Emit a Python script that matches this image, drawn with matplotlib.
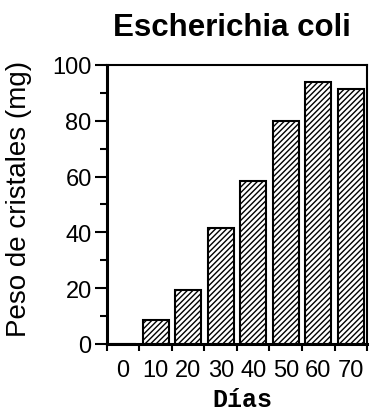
#!/usr/bin/env python3
"""Escherichia coli crystal weight bar chart."""

import matplotlib

matplotlib.use("Agg")
import matplotlib.pyplot as plt
import numpy as np

DAYS = [0, 10, 20, 30, 40, 50, 60, 70]
WEIGHT_MG = [0, 8.7, 19.5, 41.5, 58.5, 80, 94, 91.5]
Y_TICKS = [0, 20, 40, 60, 80, 100]

plt.rcParams["font.family"] = ["Liberation Sans", "DejaVu Sans"]
plt.rcParams["hatch.linewidth"] = 1.0


def main() -> None:
    fig = plt.figure(figsize=(3.7, 4.14), dpi=100)
    ax = fig.add_axes([0.289, 0.1667, 0.703, 0.6739])

    ax.bar(DAYS, WEIGHT_MG, width=8, color="white", edgecolor="black",
           linewidth=1.5, hatch="//////")

    ax.set_xlim(-5, 75)
    ax.set_ylim(0, 100)

    ax.set_yticks(Y_TICKS)
    ax.set_yticks(np.arange(10, 100, 20), minor=True)
    ax.set_xticks(DAYS)
    ax.set_xticklabels([str(d) for d in DAYS])
    ax.set_xticks(np.arange(-5, 76, 10), minor=True)

    ax.tick_params(axis="y", which="major", direction="out", length=9,
                   width=1.5, labelsize=17, pad=2)
    ax.tick_params(axis="y", which="minor", direction="out", length=5, width=1.5)
    ax.tick_params(axis="x", which="major", length=0, labelsize=17, pad=11)
    ax.tick_params(axis="x", which="minor", direction="out", length=5, width=1.5)

    for side in ["left", "bottom"]:
        ax.spines[side].set_linewidth(2.2)
    for side in ["top", "right"]:
        ax.spines[side].set_linewidth(1.5)

    fig.text(19 / 370, 1 - 199 / 414, "Peso de cristales (mg)", fontsize=20,
             rotation=90, ha="center", va="center")
    fig.text(242 / 370, 1 - 400 / 414, "Días", fontsize=18, fontweight="bold",
             family=["Liberation Mono", "DejaVu Sans Mono"],
             ha="center", va="center")
    fig.text(232 / 370, 1 - 36 / 414, "Escherichia coli", fontsize=22.5,
             fontweight="bold", ha="center", va="baseline")

    fig.savefig("out.png", dpi=100)
    plt.close(fig)


if __name__ == "__main__":
    main()
